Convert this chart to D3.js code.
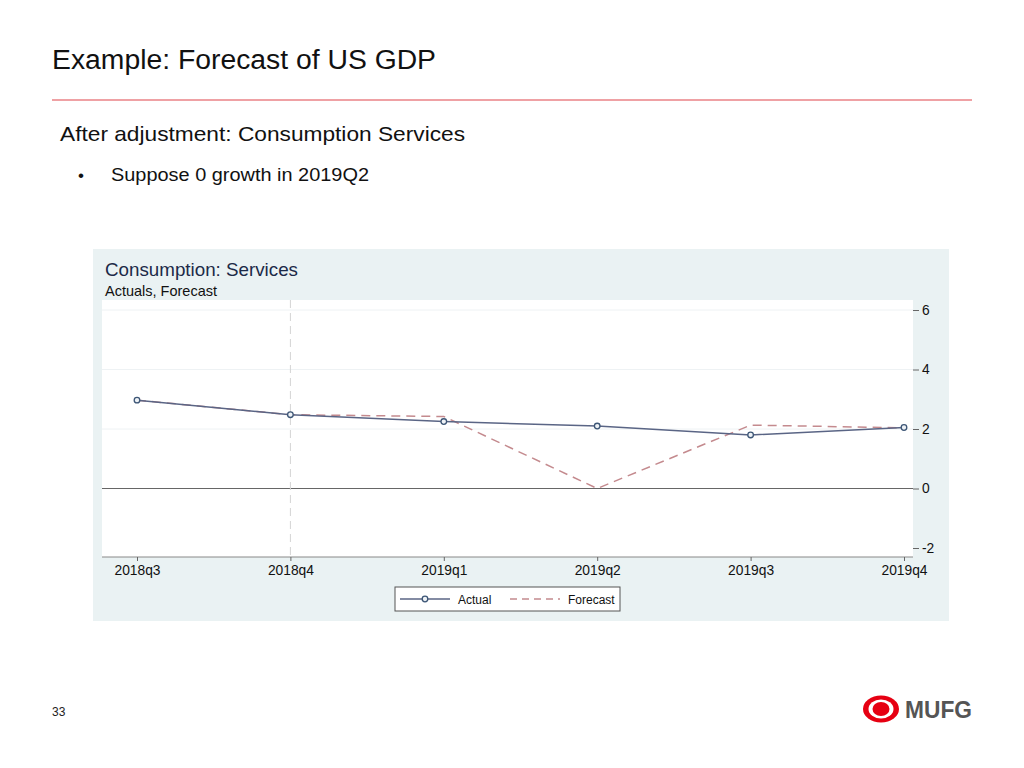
<!DOCTYPE html>
<html><head><meta charset="utf-8">
<script src="https://cdn.jsdelivr.net/npm/d3@7"></script>
<style>
body{margin:0;background:#fff;}
svg{display:block;font-family:"Liberation Sans",Arial,sans-serif;}
</style></head>
<body><svg id="c" width="1024" height="768"></svg>
<script>
const categories = ["2018q3","2018q4","2019q1","2019q2","2019q3","2019q4"];
const actual =   [2.97, 2.48, 2.25, 2.1, 1.8, 2.05];
const forecast = [2.97, 2.48, 2.42, 0.0, 2.13, 2.04];
const yTicks = [-2, 0, 2, 4, 6];

const svg = d3.select("#c");
// slide text
svg.append("text").attr("x",52).attr("y",69).attr("font-size",27).attr("fill","#111")
  .attr("textLength",384).attr("lengthAdjust","spacingAndGlyphs").text("Example: Forecast of US GDP");
svg.append("line").attr("x1",52).attr("x2",972).attr("y1",100).attr("y2",100).attr("stroke","#e0454a").attr("stroke-width",1.2);
svg.append("text").attr("x",60).attr("y",141).attr("font-size",21).attr("fill","#111")
  .attr("textLength",405).attr("lengthAdjust","spacingAndGlyphs").text("After adjustment: Consumption Services");
svg.append("text").attr("x",78).attr("y",181).attr("font-size",17).attr("fill","#111").text("•");
svg.append("text").attr("x",111).attr("y",181).attr("font-size",17.5).attr("fill","#111")
  .attr("textLength",258).attr("lengthAdjust","spacingAndGlyphs").text("Suppose 0 growth in 2019Q2");
svg.append("text").attr("x",52).attr("y",716).attr("font-size",12).attr("fill","#222").text("33");

// logo
const lg = svg.append("g");
lg.append("ellipse").attr("cx",881).attr("cy",709).attr("rx",18).attr("ry",13.5).attr("fill","#e60012");
lg.append("ellipse").attr("cx",881).attr("cy",709).attr("rx",12.5).attr("ry",9.5).attr("fill","#fff");
lg.append("ellipse").attr("cx",881).attr("cy",709).attr("rx",8.5).attr("ry",7).attr("fill","#e60012");
lg.append("text").attr("x",905).attr("y",718).attr("font-size",24).attr("font-weight","bold").attr("fill","#555")
  .attr("textLength",67).attr("lengthAdjust","spacingAndGlyphs").text("MUFG");

// chart panel
svg.append("rect").attr("x",93).attr("y",249).attr("width",856).attr("height",372).attr("fill","#eaf2f3");
svg.append("text").attr("x",105).attr("y",276).attr("font-size",18.5).attr("fill","#1c2a48")
  .attr("textLength",193).attr("lengthAdjust","spacingAndGlyphs").text("Consumption: Services");
svg.append("text").attr("x",105).attr("y",296).attr("font-size",14.3).attr("fill","#111")
  .attr("textLength",112).attr("lengthAdjust","spacingAndGlyphs").text("Actuals, Forecast");

const L=102, R=913, T=300, B=557;
svg.append("rect").attr("x",L).attr("y",T).attr("width",R-L).attr("height",B-T).attr("fill","#fff");

const x = d3.scalePoint().domain(categories).range([137,904]);
const y = d3.scaleLinear().domain([-2,6]).range([548,310]);

// gridlines
svg.append("g").selectAll("line").data(yTicks.filter(d=>d!==0 && d!==-2)).join("line")
 .attr("x1",L).attr("x2",R).attr("y1",d=>y(d)).attr("y2",d=>y(d)).attr("stroke","#eef2f4").attr("stroke-width",1);
// zero line
svg.append("line").attr("x1",L).attr("x2",R).attr("y1",y(0)).attr("y2",y(0)).attr("stroke","#666").attr("stroke-width",1.2);
// vertical dashed
svg.append("line").attr("x1",x("2018q4")).attr("x2",x("2018q4")).attr("y1",T).attr("y2",B).attr("stroke","#d4d4d4").attr("stroke-dasharray","8,5").attr("stroke-width",1);
// bottom axis line
svg.append("line").attr("x1",L).attr("x2",R).attr("y1",B).attr("y2",B).attr("stroke","#888").attr("stroke-width",1);

// x axis
const xa = svg.append("g").attr("transform",`translate(0,${B})`).call(d3.axisBottom(x).tickSize(4).tickPadding(4));
xa.select(".domain").remove();
xa.selectAll("line").attr("stroke","#666");
xa.selectAll("text").attr("font-size",13.8).attr("fill","#111").attr("font-family","Liberation Sans, Arial, sans-serif");

// y axis right
const ya = svg.append("g").attr("transform",`translate(${R},0)`)
  .call(d3.axisRight(y).tickValues(yTicks).tickFormat(d=>String(d)).tickSize(6).tickPadding(3));
ya.select(".domain").remove();
ya.selectAll("line").attr("stroke","#666");
ya.selectAll("text").attr("font-size",13.8).attr("fill","#111").attr("font-family","Liberation Sans, Arial, sans-serif");

const line = d3.line().x((d,i)=>x(categories[i])).y(d=>y(d));
svg.append("path").datum(forecast).attr("d",line).attr("fill","none").attr("stroke","#c48a8e").attr("stroke-width",1.5).attr("stroke-dasharray","9,6");
svg.append("path").datum(actual).attr("d",line).attr("fill","none").attr("stroke","#5a6585").attr("stroke-width",1.5);
svg.append("g").selectAll("circle").data(actual).join("circle")
 .attr("cx",(d,i)=>x(categories[i])).attr("cy",d=>y(d)).attr("r",2.8)
 .attr("fill","#eef2f6").attr("stroke","#3d5676").attr("stroke-width",1.3);

// legend
svg.append("rect").attr("x",395).attr("y",587).attr("width",225).attr("height",24).attr("fill","#fff").attr("stroke","#555").attr("stroke-width",1);
svg.append("line").attr("x1",400).attr("x2",450).attr("y1",599).attr("y2",599).attr("stroke","#5a6585").attr("stroke-width",1.5);
svg.append("circle").attr("cx",425).attr("cy",599).attr("r",2.8).attr("fill","#eef2f6").attr("stroke","#3d5676").attr("stroke-width",1.3);
svg.append("text").attr("x",458).attr("y",604).attr("font-size",12).attr("fill","#111").text("Actual");
svg.append("line").attr("x1",510).attr("x2",560).attr("y1",599).attr("y2",599).attr("stroke","#c48a8e").attr("stroke-width",1.5).attr("stroke-dasharray","7,5");
svg.append("text").attr("x",568).attr("y",604).attr("font-size",12).attr("fill","#111").text("Forecast");
</script></body></html>
